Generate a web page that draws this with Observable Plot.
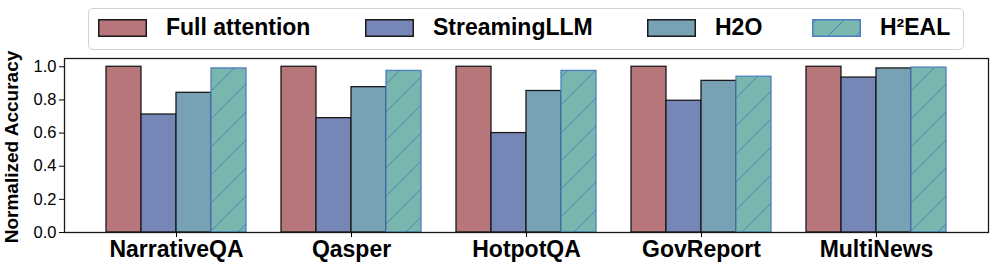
<!DOCTYPE html>
<html>
<head>
<meta charset="utf-8">
<script src="https://cdn.jsdelivr.net/npm/d3@7"></script>
<script src="https://cdn.jsdelivr.net/npm/@observablehq/plot@0.6"></script>
<style>
  body { margin: 0; background: #fff; font-family: "Liberation Sans", Arial, Helvetica, sans-serif; }
  #legend { position: relative; width: 997px; height: 50px; z-index: 0; }
  .lbox { position: absolute; left: 88px; top: 8px; width: 876px; height: 42px; border: 1px solid #d2d2d2; border-radius: 5px; box-sizing: border-box; }
  .item { position: absolute; top: 19px; height: 17px; display: flex; align-items: center; gap: 19px; white-space: nowrap; }
  .item span { font-weight: bold; font-size: 23px; color: #000; }
  .item svg { display: block; }
  #chart { position: relative; z-index: 1; }
  #chart svg { overflow: visible !important; background: transparent !important; }
</style>
</head>
<body>
<div id="legend"><div class="lbox"></div></div>
<div id="chart"></div>
<script>
// ---- data ----
const datasets = ["NarrativeQA", "Qasper", "HotpotQA", "GovReport", "MultiNews"];
const methods = ["Full attention", "StreamingLLM", "H2O", "H²EAL"];
const fullAttention = [1.0, 1.0, 1.0, 1.0, 1.0];
const streamingLLM = [0.712, 0.690, 0.600, 0.795, 0.935];
const h2o = [0.843, 0.877, 0.854, 0.915, 0.990];
const h2eal = [0.990, 0.975, 0.975, 0.940, 0.995];
const yTicks = [0, 0.2, 0.4, 0.6, 0.8, 1.0];

// ---- styles ----
const series = [fullAttention, streamingLLM, h2o, h2eal];
const fills = ["#b6767a", "#7686b6", "#77a1b4", "url(#h2eal-hatch)"];
const strokes = ["#1a1a1a", "#1a1a1a", "#1a1a1a", "#4f7fc0"];
const legendX = [98, 365, 647, 812];

const W = 997, H = 221, ML = 64, MR = 9, MT = 8, MB = 39;
const padIn = 0.2, padOut = 0.24;
const step = (W - ML - MR) / (datasets.length - padIn + 2 * padOut);
const bw = step * (1 - padIn);
const q = bw / methods.length;

const barMarks = methods.map((m, i) =>
  Plot.barY(
    datasets.map((d, j) => ({dataset: d, method: m, value: series[i][j]})),
    {x: "dataset", y: "value", fill: fills[i], stroke: strokes[i], strokeWidth: 1.3,
     insetLeft: q * i, insetRight: q * (methods.length - 1 - i)}
  )
);

const chart = Plot.plot({
  width: W, height: H,
  marginLeft: ML, marginRight: MR, marginTop: MT, marginBottom: MB,
  style: {fontFamily: "'Liberation Sans', Arial, Helvetica, sans-serif", background: "transparent", color: "#000", overflow: "visible"},
  x: {type: "band", domain: datasets, paddingInner: padIn, paddingOuter: padOut},
  y: {domain: [0, 1.05]},
  marks: [
    ...barMarks,
    Plot.frame({stroke: "#1a1a1a", strokeWidth: 1.3}),
    Plot.axisY({ticks: yTicks, tickFormat: d3.format(".1f"), tickSize: 5, tickPadding: 3, fontSize: 16.5, label: null}),
    Plot.axisX({tickSize: 5, tickPadding: 3, fontSize: 23, fontWeight: "bold", label: null}),
    Plot.text(["Normalized Accuracy"], {text: d => d, frameAnchor: "left", textAnchor: "middle", lineAnchor: "middle", rotate: -90, dx: -53, dy: 1.5, fontSize: 19, fontWeight: "bold"})
  ]
});

// hatch pattern
const svg = d3.select(chart);
const defs = svg.insert("defs", ":first-child");
const pat = defs.append("pattern").attr("id", "h2eal-hatch").attr("patternUnits", "userSpaceOnUse").attr("width", 28).attr("height", 28);
pat.append("rect").attr("width", 28).attr("height", 28).attr("fill", "#79b6ae");
pat.append("path").attr("d", "M-7,7L7,-7M0,28L28,0M21,35L35,21").attr("stroke", "#4f7fc0").attr("stroke-width", 1).attr("fill", "none");

document.getElementById("chart").appendChild(chart);

// legend
const legend = document.getElementById("legend");
methods.forEach((m, i) => {
  const item = document.createElement("div");
  item.className = "item";
  item.style.left = legendX[i] + "px";
  const sw = d3.create("svg").attr("width", 49).attr("height", 18);
  if (i === 3) {
    const p = sw.append("defs").append("pattern").attr("id", "lg-hatch").attr("patternUnits", "userSpaceOnUse").attr("width", 28).attr("height", 28).attr("x", 10).attr("y", -5);
    p.append("rect").attr("width", 28).attr("height", 28).attr("fill", "#79b6ae");
    p.append("path").attr("d", "M-7,7L7,-7M0,28L28,0M21,35L35,21").attr("stroke", "#4f7fc0").attr("stroke-width", 1);
  }
  sw.append("rect").attr("x", 0.75).attr("y", 0.75).attr("width", 47.5).attr("height", 16.5)
    .attr("fill", i === 3 ? "url(#lg-hatch)" : fills[i]).attr("stroke", strokes[i]).attr("stroke-width", 1.5);
  item.appendChild(sw.node());
  const t = document.createElement("span");
  t.textContent = m;
  item.appendChild(t);
  legend.appendChild(item);
});
</script>
</body>
</html>
